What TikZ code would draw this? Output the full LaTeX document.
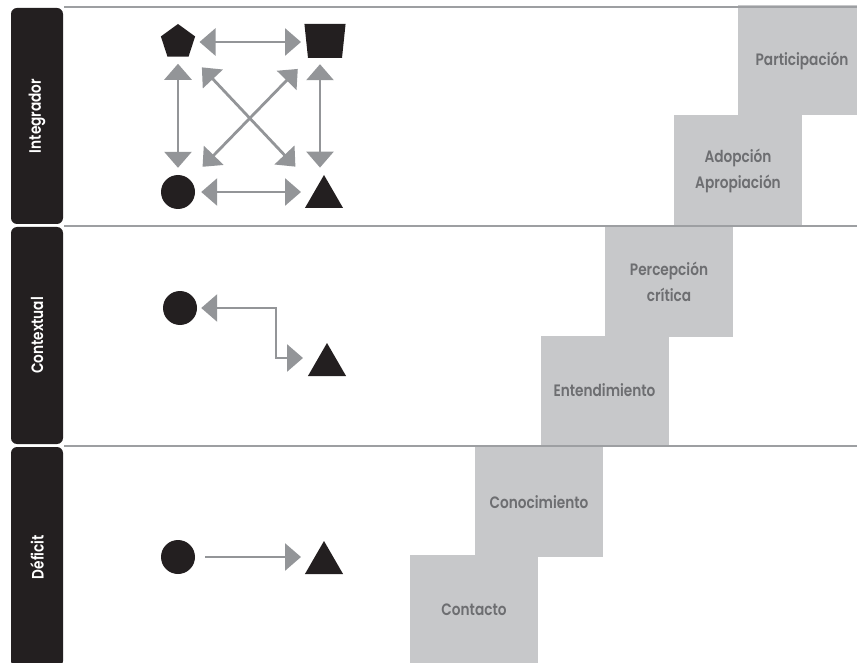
\documentclass[tikz,border=0pt]{standalone}
\usepackage{fontspec}
\setmainfont{Poppins}
\newfontfamily\stepfont[FakeStretch=0.83]{Poppins SemiBold}
\newfontfamily\lanefont[FakeStretch=0.83]{Poppins SemiBold}
\usetikzlibrary{arrows.meta,shapes.geometric}
\definecolor{laneblack}{HTML}{231F20}
\definecolor{arrowgray}{HTML}{939598}
\definecolor{stepgray}{HTML}{C7C8CA}
\definecolor{textgray}{HTML}{6D6E71}
\definecolor{rulegray}{HTML}{9D9FA2}
\tikzset{
  lanebar/.style={fill=laneblack,rounded corners=6pt,rotate=90,text=white,minimum height=52pt,inner sep=0,font=\lanefont\fontsize{16.5}{19}\selectfont},
  stepbox/.style={fill=stepgray,minimum width=128pt,minimum height=110pt,inner sep=0,text=textgray,align=center,font=\stepfont\fontsize{16.5}{26}\selectfont},
  shp/.style={fill=laneblack,inner sep=0},
  tri/.style={shp,regular polygon,regular polygon sides=3,minimum size=44pt},
  dot/.style={shp,circle,minimum size=34pt},
  dbl/.style={{Triangle[length=16pt,width=27pt]}-{Triangle[length=16pt,width=27pt]},draw=arrowgray,line width=2.8pt},
  one/.style={-{Triangle[length=16pt,width=27pt]},draw=arrowgray,line width=2.8pt},
  sep/.style={draw=rulegray,line width=2pt},
}

\begin{document}
\begin{tikzpicture}[x=1pt,y=-1pt]
	\useasboundingbox (0,0) rectangle (857,663);
	\clip (0,0) rectangle (857,663);
	\node[stepbox] (contacto) at (474,610) {Contacto};
	\node[stepbox] (conoc) at (539,502) {Conocimiento};
	\node[stepbox] (entend) at (604.5,390.5) {Entendimiento};
	\node[stepbox] (percep) at (669,281.5) {Percepción\\crítica};
	\node[stepbox] (adop) at (738,170.5) {Adopción\\Apropiación};
	\node[stepbox] (partic) at (802,60.5) {Participación};
	\draw[sep] (64,7) -- (857,7);
	\draw[sep] (64,226) -- (857,226);
	\draw[sep] (64,446) -- (857,446);
	\node[lanebar,minimum width=216pt] (integ) at (37,116) {Integrador};
	\node[lanebar,minimum width=217pt] (context) at (37,335.5) {Contextual};
	\node[lanebar,minimum width=220pt] (deficit) at (37,557) {Déficit};
	\node[shp,regular polygon,regular polygon sides=5,minimum size=36pt] (pent) at (178,42) {};
	\node[shp,trapezium,inner sep=2pt,trapezium angle=84,minimum width=34pt,minimum height=34pt,shape border rotate=180] (sq) at (325,41) {};
	\node[dot] (circ) at (178,192) {};
	\node[tri] (tri) at (324,197) {};
	\draw[dbl,shorten <=6pt,shorten >=24pt] (pent) -- (pent -| sq);
	\draw[dbl,shorten <=6pt,shorten >=23pt] (circ) -- (circ -| tri);
	\draw[dbl,shorten <=7pt,shorten >=7pt] (pent) -- (circ);
	\draw[dbl,shorten <=6pt,shorten >=7pt] ([xshift=-5pt]sq.south) -- ([xshift=-4pt]tri.north);
	\draw[dbl,shorten <=18pt,shorten >=30pt] (pent) -- (tri);
	\draw[dbl,shorten <=15pt,shorten >=18pt] (sq) -- (circ);
	\node[dot] (c2) at (180,308) {};
	\node[tri] (t2) at (327,365) {};
	\coordinate (bend) at (276,358);
	\draw[dbl,shorten <=4pt] (c2) -- (c2 -| bend) -- (bend) -- ++(27,0);
	\node[dot] (c3) at (178,557) {};
	\node[tri] (t3) at (324,563) {};
	\draw[one,shorten <=10pt,shorten >=23pt] (c3) -- (c3 -| t3);
\end{tikzpicture}
\end{document}
